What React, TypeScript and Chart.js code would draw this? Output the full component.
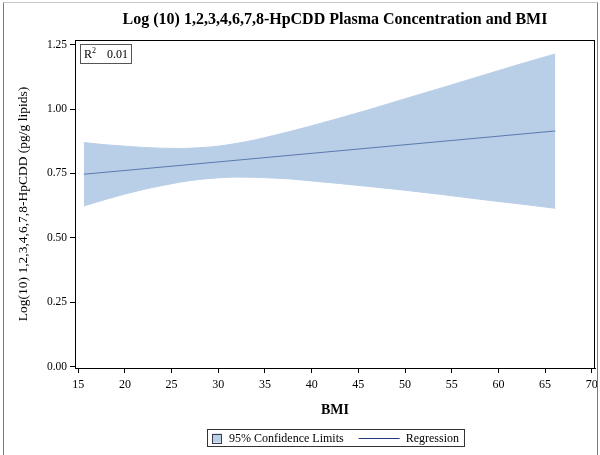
import React, { useEffect, useRef } from "react";
import { Chart, registerables } from "chart.js";

Chart.register(...registerables);

// BMI positions where the 95% confidence limits are sampled
const BAND_BMI = [15.6, 18, 20, 22, 24, 26, 28, 30, 32, 34, 36, 38, 40, 43, 46, 50, 54, 58, 62, 66.1];
// Upper 95% confidence limit of log10 concentration
const UPPER_CL = [0.87, 0.861, 0.856, 0.851, 0.848, 0.847, 0.85, 0.856, 0.867, 0.881, 0.898, 0.916, 0.935, 0.965, 0.996, 1.04, 1.083, 1.127, 1.171, 1.214];
// Lower 95% confidence limit of log10 concentration
const LOWER_CL = [0.624, 0.65, 0.67, 0.688, 0.703, 0.717, 0.727, 0.733, 0.736, 0.735, 0.732, 0.728, 0.721, 0.711, 0.7, 0.685, 0.668, 0.65, 0.633, 0.615];
// Fitted regression line end points
const FIT_BMI = [15.6, 66.1];
const FIT_LOG = [0.747, 0.915];

const X_TICKS = [15, 20, 25, 30, 35, 40, 45, 50, 55, 60, 65, 70];
const Y_TICKS = [0, 0.25, 0.5, 0.75, 1.0, 1.25];

const TITLE = "Log (10) 1,2,3,4,6,7,8-HpCDD Plasma Concentration and BMI";
const X_TITLE = "BMI";
const Y_TITLE = "Log(10) 1,2,3,4,6,7,8-HpCDD (pg/g lipids)";
const R2_LABEL = "R";
const R2_VALUE = "0.01";
const BAND_LABEL = "95% Confidence Limits";
const FIT_LABEL = "Regression";

const SERIF = "'Liberation Serif', 'Times New Roman', serif";
const BAND_COLOR = "#B9CEE7";
const FIT_COLOR = "#5A7AB0";
const LEGEND_LINE = "#20397A";

const decorations = {
  id: "decorations",
  afterDraw(chart: any) {
    const { ctx, chartArea } = chart;
    const { left, right, top, bottom } = chartArea;
    ctx.save();

    // outer frame
    ctx.lineWidth = 1;
    ctx.strokeStyle = "#C8C8C8";
    ctx.beginPath();
    ctx.moveTo(3.5, 2.5);
    ctx.lineTo(597.5, 2.5);
    ctx.stroke();
    ctx.strokeStyle = "#7A7A7A";
    ctx.beginPath();
    ctx.moveTo(3.5, 2.5);
    ctx.lineTo(3.5, 455);
    ctx.moveTo(597.5, 2.5);
    ctx.lineTo(597.5, 455);
    ctx.stroke();

    // plot frame
    ctx.strokeStyle = "#000";
    ctx.strokeRect(Math.round(left) + 0.5, Math.round(top) + 0.5, Math.round(right - left) - 1, Math.round(bottom - top));

    // title
    ctx.fillStyle = "#000";
    ctx.font = `bold 16px ${SERIF}`;
    ctx.textAlign = "center";
    ctx.textBaseline = "middle";
    ctx.fillText(TITLE, (left + right) / 2, 20);

    // R-squared inset
    ctx.strokeStyle = "#555";
    ctx.strokeRect(80.5, 44.5, 51, 19);
    ctx.textAlign = "left";
    ctx.textBaseline = "alphabetic";
    ctx.font = `12px ${SERIF}`;
    ctx.fillText(R2_LABEL, 84, 58);
    const rw = ctx.measureText(R2_LABEL).width;
    ctx.font = `8px ${SERIF}`;
    ctx.fillText("2", 84 + rw, 53);
    ctx.font = `12px ${SERIF}`;
    ctx.fillText(R2_VALUE, 107, 58);

    // legend
    ctx.font = `12px ${SERIF}`;
    const w1 = ctx.measureText(BAND_LABEL).width;
    const w2 = ctx.measureText(FIT_LABEL).width;
    const padL = 5, sw = 9, g1 = 8, g2 = 15, lineW = 41, g3 = 6, padR = 5;
    const total = padL + sw + g1 + w1 + g2 + lineW + g3 + w2 + padR;
    const lx = Math.round((left + right) / 2 - total / 2);
    const ly = 429;
    const lh = 17;
    ctx.strokeStyle = "#333";
    ctx.strokeRect(lx + 0.5, ly + 0.5, Math.round(total), lh);
    let cx = lx + padL;
    const cy = ly + lh / 2 + 0.5;
    ctx.fillStyle = BAND_COLOR;
    ctx.fillRect(cx + 0.5, cy - sw / 2, sw, sw);
    ctx.strokeStyle = "#3A3A50";
    ctx.strokeRect(cx + 0.5, Math.round(cy - sw / 2) + 0.5, sw, sw);
    cx += sw + g1;
    ctx.fillStyle = "#000";
    ctx.textBaseline = "middle";
    ctx.fillText(BAND_LABEL, cx, cy + 1);
    cx += w1 + g2;
    ctx.strokeStyle = LEGEND_LINE;
    ctx.beginPath();
    ctx.moveTo(cx, Math.round(cy) + 0.5);
    ctx.lineTo(cx + lineW, Math.round(cy) + 0.5);
    ctx.stroke();
    cx += lineW + g3;
    ctx.fillText(FIT_LABEL, cx, cy + 1);

    ctx.restore();
  },
};

// keep the plot box fixed regardless of edge tick-label overhang
const clearLabelPadding = (s: any) => {
  s.paddingLeft = 0;
  s.paddingRight = 0;
  s.paddingTop = 0;
  s.paddingBottom = 0;
};

export default function App() {
  const canvasRef = useRef<HTMLCanvasElement | null>(null);

  useEffect(() => {
    if (!canvasRef.current) return;
    const upper = BAND_BMI.map((x, i) => ({ x, y: UPPER_CL[i] }));
    const lower = BAND_BMI.map((x, i) => ({ x, y: LOWER_CL[i] }));
    const fit = FIT_BMI.map((x, i) => ({ x, y: FIT_LOG[i] }));

    const chart = new Chart(canvasRef.current, {
      type: "line",
      data: {
        datasets: [
          {
            label: BAND_LABEL,
            data: upper,
            borderColor: BAND_COLOR,
            borderWidth: 1,
            backgroundColor: BAND_COLOR,
            fill: "+1",
            pointRadius: 0,
            cubicInterpolationMode: "monotone",
            order: 2,
          },
          {
            label: "lower",
            data: lower,
            borderColor: BAND_COLOR,
            borderWidth: 1,
            backgroundColor: BAND_COLOR,
            fill: false,
            pointRadius: 0,
            cubicInterpolationMode: "monotone",
            order: 2,
          },
          {
            label: FIT_LABEL,
            data: fit,
            borderColor: FIT_COLOR,
            borderWidth: 1,
            fill: false,
            pointRadius: 0,
            order: 0,
          },
        ],
      },
      options: {
        animation: false,
        responsive: false,
        devicePixelRatio: 1,
        layout: { padding: { top: 40, right: 5, left: 0, bottom: 0 } },
        plugins: {
          legend: { display: false },
          title: { display: false },
          tooltip: { enabled: false },
        },
        scales: {
          x: {
            type: "linear",
            min: 14.65,
            max: 70.35,
            afterBuildTicks: (s: any) => {
              s.ticks = X_TICKS.map((v) => ({ value: v }));
            },
            afterFit: (s: any) => {
              s.height = 87;
              clearLabelPadding(s);
            },
            grid: { drawOnChartArea: false, drawTicks: true, tickLength: 5, color: "#000" },
            border: { display: true, color: "#000", width: 1 },
            ticks: {
              color: "#000",
              font: { family: SERIF, size: 12 },
              padding: 5,
              maxRotation: 0,
              autoSkip: false,
              callback: (v: any) => String(v),
            },
            title: {
              display: true,
              text: X_TITLE,
              color: "#000",
              font: { family: SERIF, size: 14, weight: "bold" },
              padding: { top: 0, bottom: 36 },
            },
          },
          y: {
            type: "linear",
            min: -0.005,
            max: 1.268,
            afterBuildTicks: (s: any) => {
              s.ticks = Y_TICKS.map((v) => ({ value: v }));
            },
            afterFit: (s: any) => {
              s.width = 75;
              clearLabelPadding(s);
            },
            grid: { drawOnChartArea: false, drawTicks: true, tickLength: 5, color: "#000" },
            border: { display: true, color: "#000", width: 1 },
            ticks: {
              color: "#000",
              font: { family: SERIF, size: 11.5 },
              padding: 3,
              autoSkip: false,
              callback: (v: any) => Number(v).toFixed(2),
            },
            title: {
              display: true,
              text: Y_TITLE,
              color: "#000",
              font: { family: SERIF, size: 13.5 },
              padding: { top: 15, bottom: 0 },
            },
          },
        },
      },
      plugins: [decorations],
    });
    return () => chart.destroy();
  }, []);

  return (
    <div style={{ position: "fixed", left: 0, top: 0, width: 600, height: 455, background: "#fff" }}>
      <canvas ref={canvasRef} width={600} height={455} style={{ display: "block" }} />
    </div>
  );
}
